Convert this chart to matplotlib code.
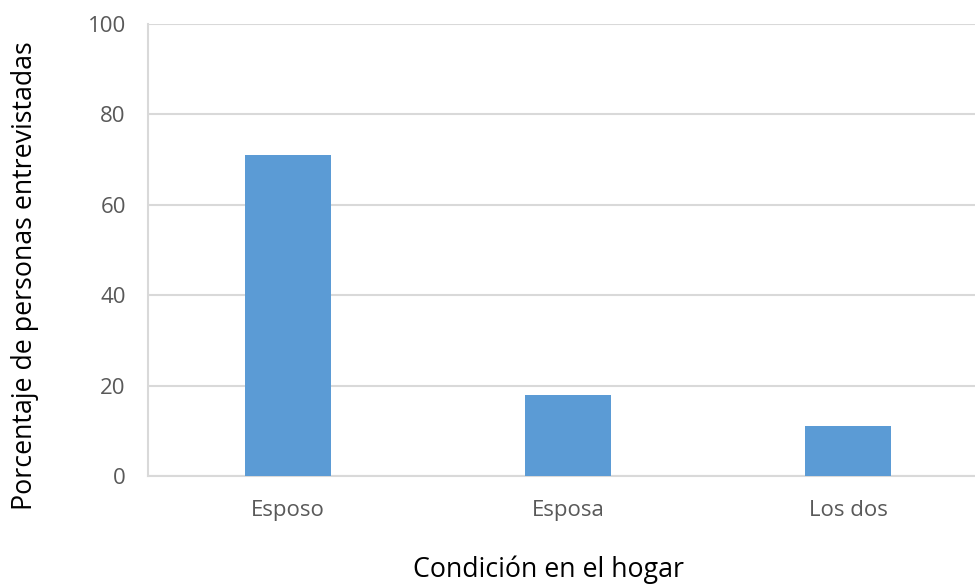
import matplotlib.pyplot as plt

categorias = ["Esposo", "Esposa", "Los dos"]
porcentajes = [71, 18, 11]
y_ticks = [0, 20, 40, 60, 80, 100]

plt.rcParams['font.family'] = ['Open Sans', 'DejaVu Sans']

fig = plt.figure(figsize=(9.75, 5.85), dpi=100)
# the plot area runs past the right edge of the image, as in the original
ax = fig.add_axes([148 / 975, 1 - 476 / 585, 840 / 975, 452 / 585])

ax.bar(range(len(categorias)), porcentajes, width=0.31, color="#5b9bd5", zorder=3)

ax.set_xlim(-0.5, len(categorias) - 0.5)
ax.set_ylim(0, 100)
ax.set_yticks(y_ticks)
ax.set_xticks(range(len(categorias)))
ax.set_xticklabels(categorias)

ax.grid(axis="y", color="#d9d9d9", linewidth=1.5, zorder=0)
for side in ["top", "right"]:
    ax.spines[side].set_visible(False)
for side in ["left", "bottom"]:
    ax.spines[side].set_color("#d9d9d9")
    ax.spines[side].set_linewidth(1.5)

ax.tick_params(axis="both", length=0, colors="#595959", labelsize=16)
ax.tick_params(axis="y", pad=16)
ax.tick_params(axis="x", pad=17)

ax.set_ylabel("Porcentaje de personas entrevistadas", fontsize=19.3, color="#000000")
ax.set_xlabel("Condición en el hogar", fontsize=19.3, color="#000000", va="top")
ax.yaxis.set_label_coords(-0.130, 0.4425)
ax.xaxis.set_label_coords(0.477, -0.175)

fig.savefig("out.png", dpi=100)
